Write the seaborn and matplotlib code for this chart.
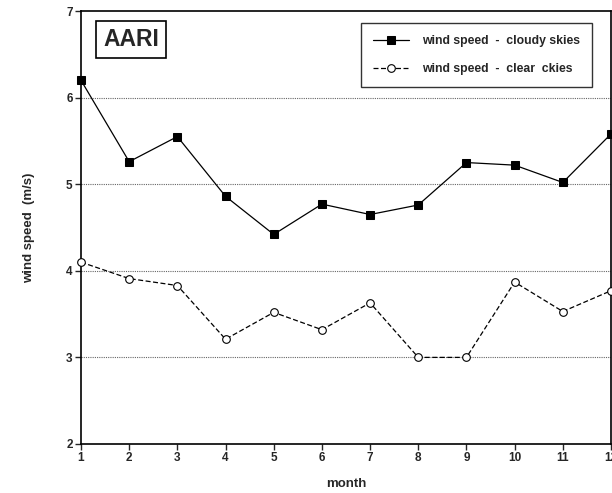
import matplotlib
matplotlib.use("Agg")
import matplotlib.pyplot as plt
import seaborn as sns
import pandas as pd

# Monthly mean wind speed (m/s)
months = [1, 2, 3, 4, 5, 6, 7, 8, 9, 10, 11, 12]
cloudy = [6.20, 5.26, 5.55, 4.86, 4.42, 4.77, 4.65, 4.76, 5.25, 5.22, 5.02, 5.58]
clear = [4.10, 3.91, 3.83, 3.21, 3.52, 3.32, 3.63, 3.00, 3.00, 3.87, 3.53, 3.77]
series_names = ["wind speed  -  cloudy skies", "wind speed  -  clear  ckies"]
y_ticks = [2, 3, 4, 5, 6, 7]

sns.set_style("ticks")
plt.rcParams["font.family"] = ["Liberation Sans", "DejaVu Sans"]
plt.rcParams["font.weight"] = "bold"

df = pd.DataFrame({
    "month": months * 2,
    "speed": cloudy + clear,
    "series": [series_names[0]] * len(months) + [series_names[1]] * len(months),
})

fig = plt.figure(figsize=(6.12, 4.93), dpi=100)
ax = fig.add_axes([81 / 612, 49 / 493, 530 / 612, 433 / 493])

ax.set_ylim(2, 7)
ax.set_xlim(1, 12)
for y in y_ticks[1:-1]:
    ax.axhline(y, color="#666666", lw=0.8, ls=(0, (1, 1)), zorder=1)

sns.lineplot(data=df, x="month", y="speed", hue="series", style="series",
             palette=["black", "black"], dashes=[(None, None), (4, 2)],
             markers=["s", "o"], linewidth=0.9, ax=ax,
             legend=False, clip_on=False, zorder=3)
lines = ax.get_lines()[-2:]
lines[0].set_markerfacecolor("black")
lines[0].set_markeredgecolor("black")
lines[0].set_markersize(5.5)
lines[1].set_markerfacecolor("white")
lines[1].set_markeredgecolor("black")
lines[1].set_markeredgewidth(0.8)
lines[1].set_markersize(5.5)

ax.set_xticks(months)
ax.set_yticks(y_ticks)
ax.tick_params(axis="both", direction="out", length=4, width=1, labelsize=8.5, pad=2)
for lbl in ax.get_xticklabels() + ax.get_yticklabels():
    lbl.set_fontweight("bold")
for s in ax.spines.values():
    s.set_linewidth(1.2)
    s.set_color("black")

ax.set_xlabel("month", fontsize=9.5, fontweight="bold", labelpad=10)
ax.set_ylabel("wind speed  (m/s)", fontsize=9.5, fontweight="bold", labelpad=22)

leg = ax.legend(lines, series_names, loc="upper right", bbox_to_anchor=(0.964, 0.972),
                borderaxespad=0, frameon=True, fancybox=False, edgecolor="black",
                handlelength=3.0, borderpad=1.0, labelspacing=1.3, handletextpad=1.0,
                prop={"weight": "bold", "size": 8.8})
leg.get_frame().set_linewidth(1.0)

ax.text(0.042, 0.935, "AARI", transform=ax.transAxes, fontsize=16.5, fontweight="bold",
        va="center", ha="left",
        bbox=dict(boxstyle="square,pad=0.3", facecolor="white", edgecolor="black", lw=1.2))

fig.savefig("out.png", dpi=100)
